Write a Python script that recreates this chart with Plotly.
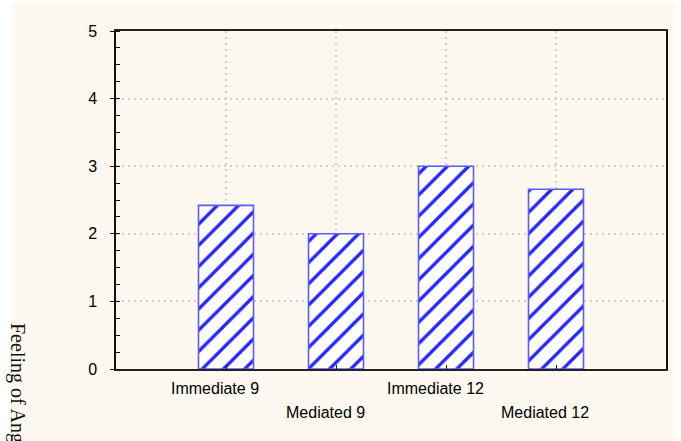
import plotly.graph_objects as go

# Mean scores per condition
categories = ["Immediate 9", "Mediated 9", "Immediate 12", "Mediated 12"]
values = [2.42, 2.0, 3.0, 2.66]
y_ticks = [0, 1, 2, 3, 4, 5]
y_title = "Feeling of Anger"

W, H = 681, 441
L, R, T, B = 116, 15, 31, 72
PW, PH = W - L - R, H - T - B


def px_x(p):
    return (p - L) / PW


def px_y(p):
    return (H - B - p) / PH


font = "Liberation Sans, Arial, sans-serif"
blue_line = "#2626ff"
blue_edge = "#5c5cff"

fig = go.Figure()
fig.add_trace(go.Bar(
    x=categories,
    y=values,
    width=0.5,
    marker=dict(
        color="white",
        line=dict(color=blue_edge, width=1.6),
        pattern=dict(shape="/", fgcolor=blue_line, bgcolor="white",
                     fgopacity=1, size=15, solidity=0.22, fillmode="replace"),
    ),
    hoverinfo="skip",
    showlegend=False,
))

grid = dict(showgrid=True, gridcolor="#cfcfcf", griddash="2px,4px", gridwidth=1.5)

fig.update_layout(
    width=W, height=H, autosize=False,
    margin=dict(l=L, r=R, t=T, b=B, pad=0),
    paper_bgcolor="white",
    plot_bgcolor="white",
    font=dict(family=font, size=16, color="black"),
    bargap=0.5,
    xaxis=dict(
        type="category", range=[-1, 4],
        showline=True, linecolor="#222", linewidth=2, mirror=True,
        ticks="inside", ticklen=4, tickcolor="#222",
        showticklabels=False, zeroline=False, **grid,
    ),
    yaxis=dict(
        range=[0, 5], tickvals=y_ticks,
        showline=True, linecolor="#111", linewidth=1.5, mirror=True,
        ticks="outside", ticklen=4, tickcolor="#111",
        ticklabelstandoff=10,
        tickfont=dict(size=16, family=font),
        minor=dict(dtick=0.25, ticks="inside", ticklen=4, tickcolor="#111", showgrid=False),
        zeroline=False, **grid,
    ),
    yaxis2=dict(
        range=[0, 5], overlaying="y", side="right", anchor="x",
        tickvals=y_ticks, ticks="inside", ticklen=5, tickcolor="#222",
        showticklabels=False, showgrid=False, zeroline=False,
        minor=dict(dtick=0.25, ticks="inside", ticklen=4, tickcolor="#222"),
    ),
)

# cream panel behind the chart
fig.add_shape(type="rect", xref="paper", yref="paper", layer="below",
              x0=px_x(12), x1=px_x(676), y0=px_y(H + 5), y1=px_y(3),
              fillcolor="#fdf9f0", line=dict(width=0))

# staggered category labels
for i, c in enumerate(categories):
    row_y = 388 if i % 2 == 0 else 412
    fig.add_annotation(x=c, xref="x", y=px_y(row_y), yref="paper",
                       text=c, showarrow=False, xanchor="center", yanchor="middle",
                       xshift=-11, font=dict(size=16, family=font, color="black"))

# rotated axis title, running off the bottom edge
fig.add_annotation(x=px_x(18), xref="paper", y=px_y(321), yref="paper",
                   text=y_title, showarrow=False, textangle=90,
                   xanchor="center", yanchor="top",
                   font=dict(size=20, family="Liberation Serif, Times New Roman, serif", color="#111"))

fig.write_html("out.html")
